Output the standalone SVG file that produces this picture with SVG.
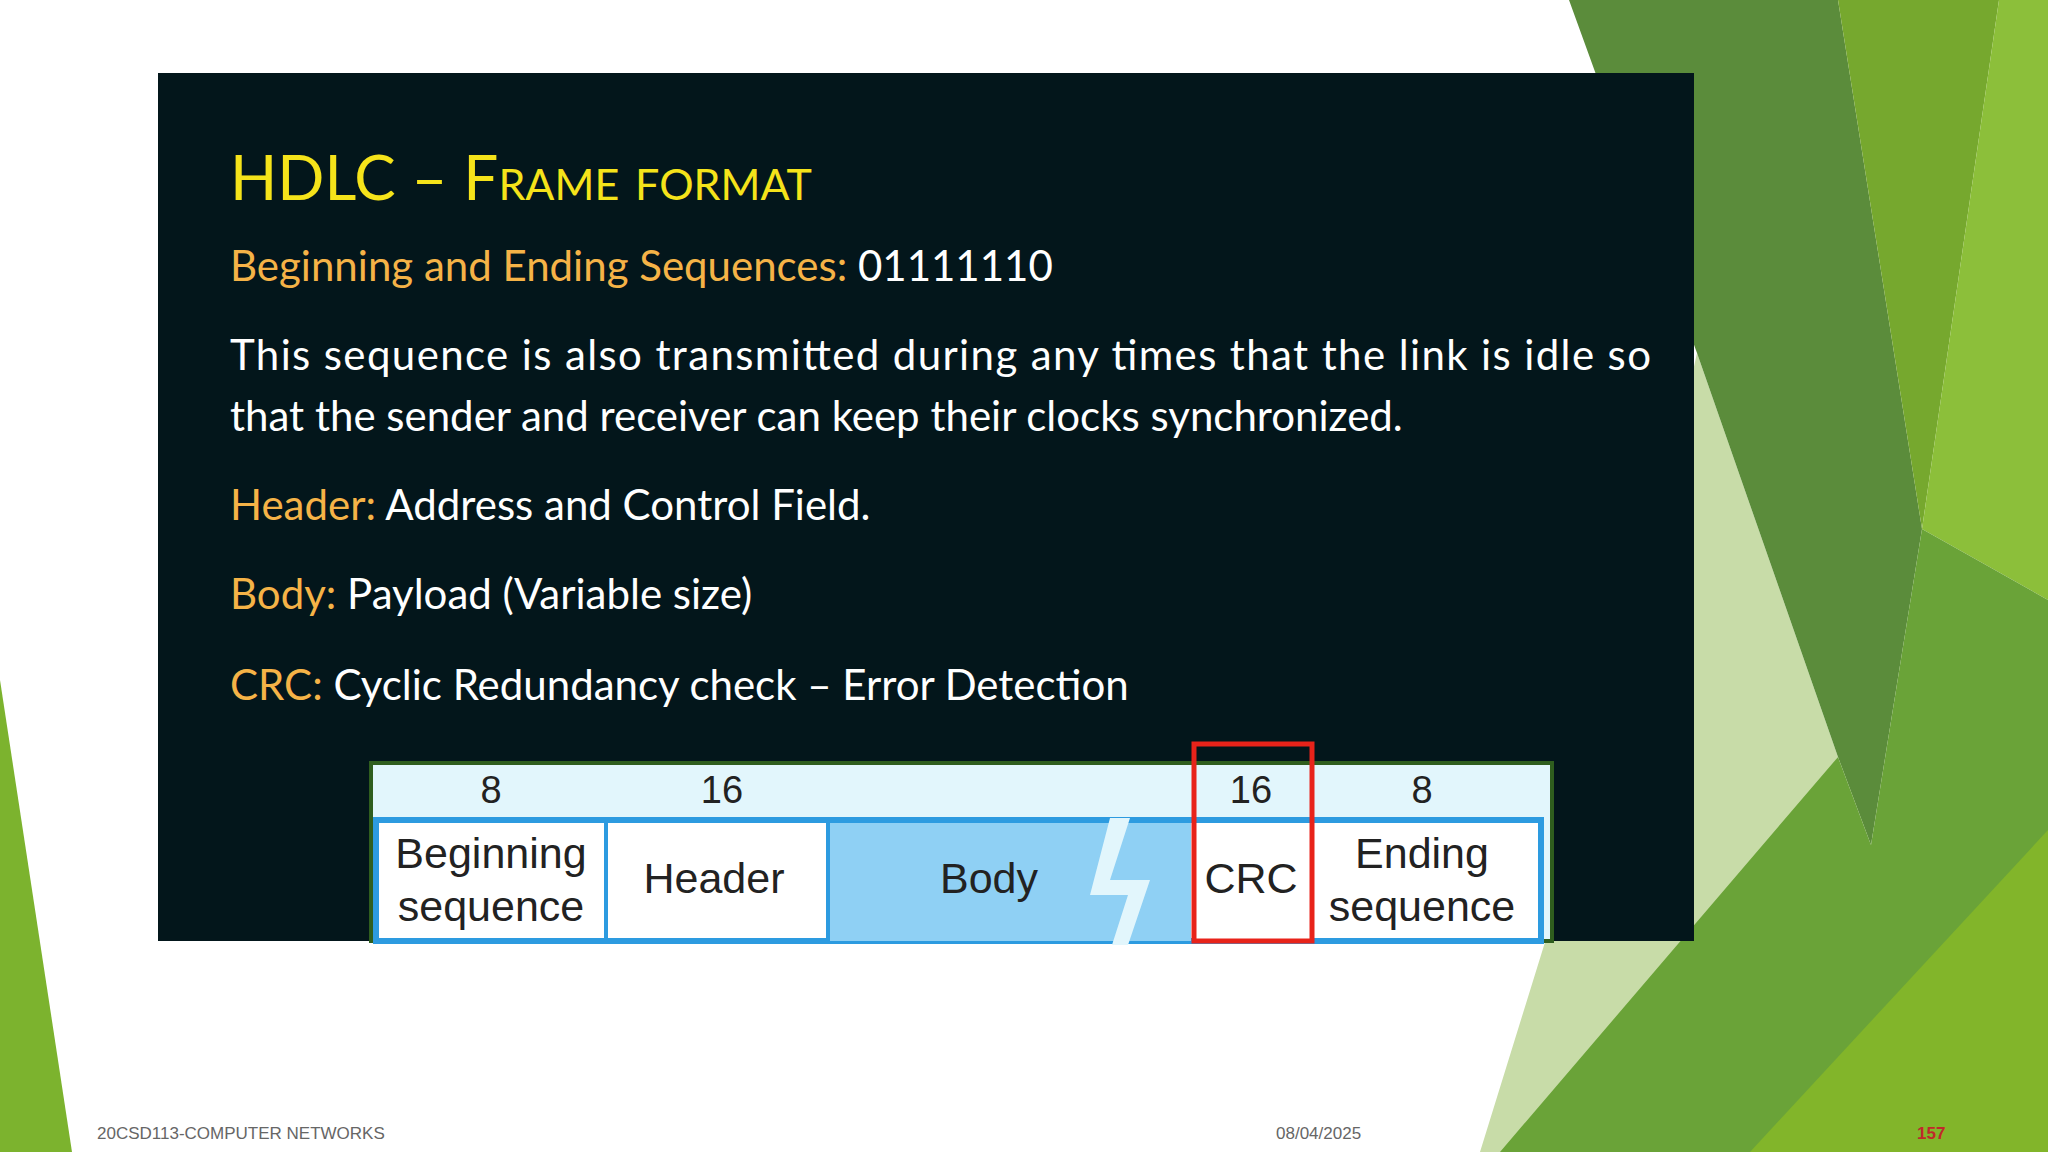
<svg xmlns="http://www.w3.org/2000/svg" width="2048" height="1152" viewBox="0 0 2048 1152">
<style>
.t{font-family:Lato,"Open Sans",sans-serif;font-size:42px;fill:#ffffff}
.o{fill:#f5b347}
.d{font-family:"Liberation Sans",Arial,sans-serif;fill:#222;font-size:43px;text-anchor:middle}
.n{font-family:"Liberation Sans",Arial,sans-serif;fill:#222;font-size:38px;text-anchor:middle}
.f{font-family:"Liberation Sans",Arial,sans-serif;font-size:17px;fill:#666}
</style>
<rect width="2048" height="1152" fill="#ffffff"/>
<g id="background">
<polygon points="0,680 0,1152 72,1152" fill="#7cb32e"/>
<polygon points="1697,353 1838,757 1560,1152 1480,1152 1620,700" fill="#c8dca8"/>
<polygon points="1569,0 1838,0 1922,529 1871,845 1838,757 1697,353" fill="#5b8c3b"/>
<polygon points="1838,0 1999,0 1922,529" fill="#76a82e"/>
<polygon points="1999,0 2048,0 2048,600 1922,529" fill="#8cbf3a"/>
<polygon points="1838,757 1871,845 1922,529 2048,600 2048,1152 1500,1152" fill="#6aa338"/>
<polygon points="1750,1152 2048,830 2048,1152" fill="#82b52a"/>
</g>
<g id="panel">
<rect x="158" y="73" width="1536" height="868" fill="#03161b"/>
<text x="230" y="200" style="font-family:Lato,'Open Sans',sans-serif;font-size:62px;font-variant:small-caps;fill:#f5e31a">HDLC – Frame format</text>
<text class="t" x="230" y="281"><tspan class="o">Beginning and Ending Sequences:</tspan> 01111110</text>
<text class="t" x="230" y="370" textLength="1421">This sequence is also transmitted during any times that the link is idle so</text>
<text class="t" x="230" y="431">that the sender and receiver can keep their clocks synchronized.</text>
<text class="t" x="230" y="520"><tspan class="o">Header:</tspan> Address and Control Field.</text>
<text class="t" x="230" y="609"><tspan class="o">Body:</tspan> Payload (Variable size)</text>
<text class="t" x="230" y="700"><tspan class="o">CRC:</tspan> Cyclic Redundancy check – Error Detection</text>
</g>
<g id="frame">
<rect x="371" y="763" width="1181" height="178" fill="#e2f6fc" stroke="#2f5e1e" stroke-width="4"/>
<rect x="376" y="820" width="1165" height="121" fill="#ffffff" stroke="#2d9be0" stroke-width="6"/>
<rect x="828" y="823" width="363" height="118" fill="#8fd0f4"/>
<polygon points="1110,818 1130,818 1110,880 1150,880 1128,945 1112,945 1128,895 1090,895" fill="#e2f6fc"/>
<line x1="606" y1="823" x2="606" y2="941" stroke="#2d9be0" stroke-width="4"/>
<line x1="828" y1="823" x2="828" y2="941" stroke="#2d9be0" stroke-width="4"/>
<rect x="1192" y="823" width="119" height="118" fill="#ffffff"/>
<text class="n" x="491" y="803">8</text>
<text class="n" x="722" y="803">16</text>
<text class="n" x="1251" y="803">16</text>
<text class="n" x="1422" y="803">8</text>
<text class="d" x="491" y="868">Beginning</text>
<text class="d" x="491" y="921">sequence</text>
<text class="d" x="714" y="893">Header</text>
<text class="d" x="989" y="893">Body</text>
<text class="d" x="1251" y="893">CRC</text>
<text class="d" x="1422" y="868">Ending</text>
<text class="d" x="1422" y="921">sequence</text>
<rect x="1194" y="744" width="118" height="197" fill="none" stroke="#e8231a" stroke-width="5"/>
</g>
<g id="footer">
<text class="f" x="97" y="1139">20CSD113-COMPUTER NETWORKS</text>
<text class="f" x="1276" y="1139">08/04/2025</text>
<text class="f" x="1917" y="1139" style="fill:#c0282a;font-weight:bold">157</text>
</g>
</svg>
